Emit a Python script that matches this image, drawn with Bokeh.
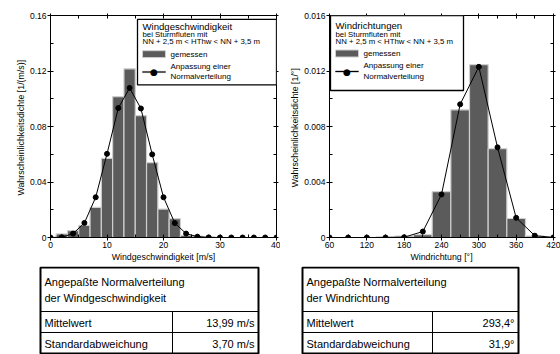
from bokeh.plotting import figure
from bokeh.layouts import column, row
from bokeh.models import Range1d, LinearAxis, FixedTicker, BoxAnnotation, Label
from bokeh.core.properties import value
from bokeh.embed import file_html
from bokeh.resources import INLINE

FONT = "Liberation Sans"

# ---------------- data: wind speed ----------------
speed_centers = [2, 4, 6, 8, 10, 12, 14, 16, 18, 20, 22, 24, 26, 28]
speed_density = [0.0026, 0.0050, 0.0088, 0.0217, 0.0570, 0.1015, 0.1216,
                 0.0879, 0.0540, 0.0205, 0.0136, 0.0015, 0.0010, 0.0004]
speed_bin_width = 2
speed_fit_x = [0, 2, 4, 6, 8, 10, 12, 14, 16, 18, 20, 22, 24, 26, 28, 30,
               32, 34, 36, 38, 40]
speed_fit_y = [0.0000, 0.0002, 0.0028, 0.0105, 0.0290, 0.0603, 0.0933,
               0.1078, 0.0930, 0.0599, 0.0290, 0.0104, 0.0028, 0.0006,
               0.0001, 0.0, 0.0, 0.0, 0.0, 0.0, 0.0]
speed_yticks = [0, 0.04, 0.08, 0.12, 0.16]
speed_ylabels = ["0", "0.04", "0.08", "0.12", "0.16"]
speed_xticks = [0, 10, 20, 30, 40]

# ---------------- data: wind direction ----------------
dir_centers = [150, 180, 210, 240, 270, 300, 330, 360, 390]
dir_density = [0.00005, 0.0001, 0.0002, 0.0033, 0.0092, 0.01245, 0.0064,
               0.00137, 0.0001]
dir_bin_width = 30
dir_fit_x = [60, 90, 120, 150, 180, 210, 240, 270, 300, 330, 360, 390, 420]
dir_fit_y = [0.0, 0.0, 0.0, 0.0, 0.00002, 0.00043, 0.0031, 0.0096, 0.0123,
             0.0065, 0.00142, 0.00013, 0.00001]
dir_yticks = [0, 0.004, 0.008, 0.012, 0.016]
dir_ylabels = ["0", "0.004", "0.008", "0.012", "0.016"]
dir_xticks = [60, 120, 180, 240, 300, 360, 420]

# ---------------- table texts ----------------
speed_table = ["Angepaßte Normalverteilung", "der Windgeschwindigkeit",
               "Mittelwert", "13,99 m/s", "Standardabweichung", "3,70 m/s"]
dir_table = ["Angepaßte Normalverteilung", "der Windrichtung",
             "Mittelwert", "293,4°", "Standardabweichung", "31,9°"]

BAR_FILL = "#5b5b5b"
BAR_EDGE = "#cfcfcf"


def style_axis(ax, size="8.5px"):
    ax.axis_line_color = "black"
    ax.major_tick_line_color = "black"
    ax.minor_tick_line_color = "black"
    ax.major_tick_in = 3
    ax.major_tick_out = 3
    ax.minor_tick_in = 3
    ax.minor_tick_out = 0
    ax.major_label_text_font = FONT
    ax.major_label_text_font_size = size
    ax.major_label_text_color = "black"
    ax.major_label_standoff = 1
    ax.axis_label_text_font = FONT
    ax.axis_label_text_font_size = "8.8px"
    ax.axis_label_text_font_style = "normal"
    ax.axis_label_text_color = "black"
    ax.axis_label_standoff = 1


def make_plot(xr, yr, w, h, bl, br, bt, bb, xticks, xminor, yticks, yminor,
              ylabels, xlabel, ylabel):
    p = figure(width=w, height=h, x_range=Range1d(*xr), y_range=Range1d(*yr),
               output_backend="svg", toolbar_location=None,
               min_border_left=bl, min_border_right=br,
               min_border_top=bt, min_border_bottom=bb)
    p.xgrid.visible = False
    p.ygrid.visible = False
    p.outline_line_color = "black"
    p.outline_line_width = 1
    p.xaxis.ticker = FixedTicker(ticks=xticks, minor_ticks=xminor)
    p.yaxis.ticker = FixedTicker(ticks=yticks, minor_ticks=yminor)
    p.yaxis.major_label_overrides = {t: s for t, s in zip(yticks, ylabels)}
    p.xaxis.axis_label = xlabel
    p.yaxis.axis_label = ylabel
    for ax in p.xaxis + p.yaxis:
        style_axis(ax)
    top = LinearAxis(ticker=FixedTicker(ticks=xticks, minor_ticks=xminor))
    right = LinearAxis(ticker=FixedTicker(ticks=yticks, minor_ticks=yminor))
    for ax in (top, right):
        style_axis(ax, "1px")
        ax.major_label_text_color = None
        ax.major_label_standoff = 0
        ax.major_tick_out = 2
    p.add_layout(top, "above")
    p.add_layout(right, "right")
    return p


# ---------------- left plot ----------------
p1 = make_plot((0, 40), (0, 0.16), 280, 266, 50, 4, 14, 28,
               speed_xticks, [5, 15, 25, 35], speed_yticks,
               [0.02, 0.06, 0.10, 0.14], speed_ylabels,
               "Windgeschwindigkeit [m/s]",
               "Wahrscheinlichkeitsdichte  [1/(m/s)]")
p1.vbar(x=speed_centers, top=speed_density, width=speed_bin_width,
        fill_color=BAR_FILL, line_color=BAR_EDGE, line_width=1.2)
p1.line(speed_fit_x, speed_fit_y, line_color="black", line_width=1)
p1.scatter(speed_fit_x, speed_fit_y, size=5, fill_color="black",
           line_color="black")

# ---------------- right plot ----------------
p2 = make_plot((60, 420), (0, 0.016), 280, 266, 49, 7, 15, 29,
               dir_xticks, [90, 150, 210, 270, 330, 390], dir_yticks,
               [0.002, 0.006, 0.010, 0.014], dir_ylabels,
               "Windrichtung [°]", "Wahrscheinlichkeitsdichte  [1/°]")
p2.vbar(x=dir_centers, top=dir_density, width=dir_bin_width,
        fill_color=BAR_FILL, line_color=BAR_EDGE, line_width=1.2)
p2.line(dir_fit_x, dir_fit_y, line_color="black", line_width=1)
p2.scatter(dir_fit_x, dir_fit_y, size=5, fill_color="black",
           line_color="black")


# ---------------- legends (pixel positions converted to data units) -------
def add_legend(p, conv, box, title, sw_x, rows_y):
    (bx0, by0, bx1, by1) = box
    l, t = conv(bx0, by0)
    r, b = conv(bx1, by1)
    p.add_layout(BoxAnnotation(left=l, right=r, top=t, bottom=b,
                               fill_color="white", fill_alpha=1,
                               line_color="black", line_alpha=1,
                               line_width=1.3, level="overlay"))
    tx = sw_x
    lines = [(title, "9.6px", rows_y[0]),
             ("bei Sturmfluten mit", "7.8px", rows_y[1]),
             ("NN + 2,5 m < HThw < NN + 3,5 m", "7.8px", rows_y[2])]
    for txt, fs, yp in lines:
        x, y = conv(tx, yp)
        p.add_layout(Label(x=x, y=y, text=txt, text_font=FONT,
                           text_font_size=fs, text_baseline="middle",
                           text_color="black", level="overlay"))
    # swatch
    sl, st = conv(sw_x, rows_y[3] - 3.5)
    sr, sb = conv(sw_x + 23, rows_y[3] + 3.5)
    p.add_layout(BoxAnnotation(left=sl, right=sr, top=st, bottom=sb,
                               fill_color=BAR_FILL, fill_alpha=1,
                               line_color=BAR_EDGE, line_alpha=1,
                               line_width=1, level="overlay"))
    x, y = conv(sw_x + 28, rows_y[3])
    p.add_layout(Label(x=x, y=y, text="gemessen", text_font=FONT,
                       text_font_size="8px", text_baseline="middle",
                       text_color="black", level="overlay"))
    # line sample
    ll, _ = conv(sw_x, rows_y[5] - 5)
    lr, _ = conv(sw_x + 23, rows_y[5] - 5)
    lt = conv(sw_x, rows_y[5] - 5.6)[1]
    lb = conv(sw_x, rows_y[5] - 4.4)[1]
    p.add_layout(BoxAnnotation(left=ll, right=lr, top=lt, bottom=lb,
                               fill_color="black", fill_alpha=1,
                               line_color="black", line_alpha=1,
                               line_width=0.3, level="overlay"))
    cx, cy = conv(sw_x + 11.5, rows_y[5] - 5)
    p.add_layout(Label(x=cx, y=cy, text="●", text_font="DejaVu Sans",
                       text_font_size="9px", text_baseline="middle",
                       text_align="center", text_color="black",
                       level="overlay"))
    for txt, yp in (("Anpassung einer", rows_y[4]),
                    ("Normalverteilung", rows_y[5])):
        x, y = conv(sw_x + 28, yp)
        p.add_layout(Label(x=x, y=y, text=txt, text_font=FONT,
                           text_font_size="8px", text_baseline="middle",
                           text_color="black", level="overlay"))


def conv_left(xp, yp):
    return ((xp - 50) / 226 * 40, (238 - yp) / 224 * 0.16)


def conv_right(xp, yp):
    return (60 + (xp - 329) / 224 * 360, (237 - yp) / 222 * 0.016)


add_legend(p1, conv_left, (137, 18, 276, 84), "Windgeschwindigkeit", 142,
           [25, 33.5, 40.5, 53, 65, 76])
add_legend(p2, conv_right, (330, 15, 463, 90), "Windrichtungen", 335,
           [25, 33.5, 40.5, 53, 65, 76])

# ---------------- tables ----------------
p3 = figure(width=560, height=88, x_range=Range1d(0, 560),
            y_range=Range1d(354, 266), output_backend="svg",
            toolbar_location=None, min_border=0,
            x_axis_location=None, y_axis_location=None)
p3.xgrid.visible = False
p3.ygrid.visible = False
p3.outline_line_color = None


def draw_table(x0, x1, xs, texts):
    y0, y1, y2, y3 = 267, 311, 332, 353
    p3.quad(left=[x0], right=[x1], top=[y0], bottom=[y3], fill_color=None,
            line_color="black", line_width=2)
    p3.segment(x0=[x0, x0, xs], y0=[y1, y2, y1], x1=[x1, x1, xs],
               y1=[y1, y2, y3], line_color="black", line_width=1)
    p3.text(x=[x0 + 4, x0 + 4, x0 + 4, x0 + 4],
            y=[281, 297, 322, 343],
            text=[texts[0], texts[1], texts[2], texts[4]],
            text_font=value(FONT), text_font_size="11px",
            text_baseline="middle", text_color="black")
    p3.text(x=[x1 - 4, x1 - 4], y=[322, 343], text=[texts[3], texts[5]],
            text_font=value(FONT), text_font_size="11px",
            text_baseline="middle", text_align="right", text_color="black")


draw_table(40, 258, 172, speed_table)
draw_table(302, 518, 432, dir_table)

layout = column(row(p1, p2, spacing=0), p3, spacing=0)
open("out.html", "w").write(file_html(layout, INLINE))
